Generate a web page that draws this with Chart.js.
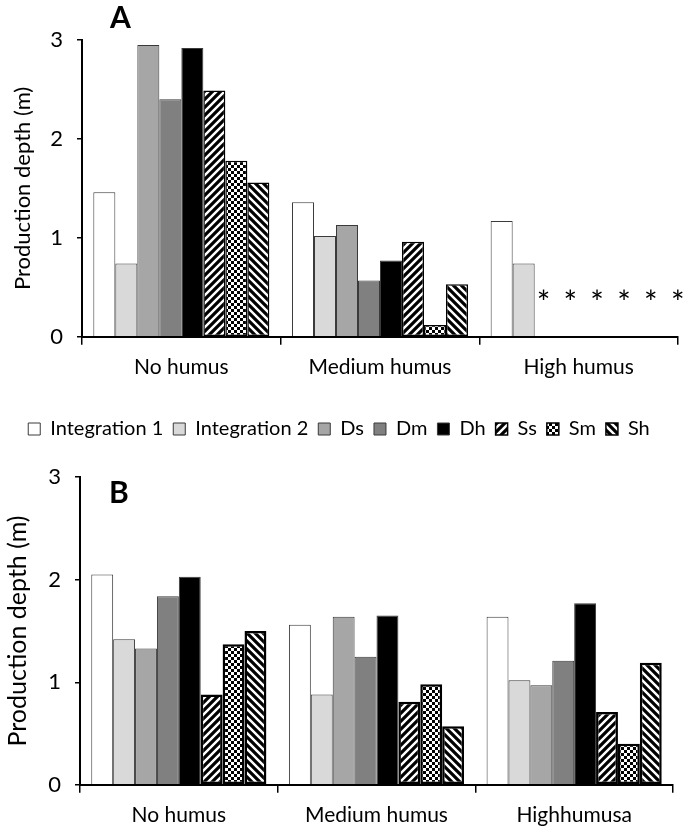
<!DOCTYPE html>
<html>
<head>
<meta charset="utf-8">
<script src="https://cdn.jsdelivr.net/npm/chart.js@4.4.1/dist/chart.umd.min.js"></script>
<style>
  body { margin: 0; background: #fff; width: 685px; height: 830px; position: relative; overflow: hidden; }
  canvas { position: absolute; left: 0; }
  #chartA { top: 0; }
  #chartB { top: 450px; }
  .panel { position: absolute; font: bold 30px Lato, sans-serif; line-height: 30px; color: #000; }
</style>
</head>
<body>
<canvas id="chartA" width="685" height="450"></canvas>
<canvas id="chartB" width="685" height="380"></canvas>
<div class="panel" style="left:110px; top:1px;">A</div>
<div class="panel" style="left:109px; top:476px;">B</div>
<script>
// data
const categoriesA = ['No humus', 'Medium humus', 'High humus'];
const categoriesB = ['No humus', 'Medium humus', 'Highhumusa'];
const seriesNames = ['Integration 1', 'Integration 2', 'Ds', 'Dm', 'Dh', 'Ss', 'Sm', 'Sh'];
const yTickValues = [0, 1, 2, 3];

// panel A (null = not available, shown as *)
const int1A = [1.46, 1.36, 1.17];
const int2A = [0.74, 1.02, 0.74];
const dsA = [2.95, 1.13, null];
const dmA = [2.40, 0.57, null];
const dhA = [2.92, 0.77, null];
const ssA = [2.49, 0.96, null];
const smA = [1.78, 0.12, null];
const shA = [1.56, 0.53, null];
const missingMarkValue = 0.4;
const missingCount = 6;

// panel B
const int1B = [2.05, 1.56, 1.64];
const int2B = [1.42, 0.88, 1.02];
const dsB = [1.33, 1.64, 0.97];
const dmB = [1.84, 1.25, 1.21];
const dhB = [2.03, 1.65, 1.77];
const ssB = [0.88, 0.81, 0.71];
const smB = [1.37, 0.98, 0.40];
const shB = [1.50, 0.57, 1.19];

Chart.defaults.font.family = 'Lato, sans-serif';
Chart.defaults.color = '#000';

// hatch fills
function makePattern(kind) {
    const c = document.createElement('canvas');
    const s = kind === 'check' ? 6 : 8;
    c.width = s; c.height = s;
    const g = c.getContext('2d');
    g.fillStyle = '#fff';
    g.fillRect(0, 0, s, s);
    g.fillStyle = '#000';
    g.strokeStyle = '#000';
    if (kind === 'check') {
        g.fillRect(0, 0, 3, 3);
        g.fillRect(3, 3, 3, 3);
    } else {
        g.lineWidth = 3.2;
        g.beginPath();
        if (kind === 'up') {
            g.moveTo(-s, s * 2); g.lineTo(s * 2, -s);
            g.moveTo(-s, s); g.lineTo(s, -s);
            g.moveTo(0, s * 2); g.lineTo(s * 2, 0);
        } else {
            g.moveTo(-s, -s); g.lineTo(s * 2, s * 2);
            g.moveTo(-s, 0); g.lineTo(s, s * 2);
            g.moveTo(0, -s); g.lineTo(s * 2, s);
        }
        g.stroke();
    }
    return g.createPattern(c, 'repeat');
}

const fills = ['#ffffff', '#d9d9d9', '#a6a6a6', '#808080', '#000000',
    makePattern('up'), makePattern('check'), makePattern('down')];

function buildDatasets(values, hatchBorder) {
    return values.map((v, i) => ({
        label: seriesNames[i],
        data: v,
        backgroundColor: fills[i],
        borderColor: i < 5 ? '#3a3a3a' : '#000',
        borderWidth: i < 5 ? 1 : hatchBorder,
        borderSkipped: i < 5 ? 'start' : false,
        categoryPercentage: 0.886,
        barPercentage: 1.0
    }));
}

function axes(yWidth, titleSize, titlePad, xExtra) {
    return {
        x: {
            ticks: { color: '#000', font: { size: 21 }, padding: 10 },
            grid: { drawOnChartArea: false, tickLength: 8, color: '#000', lineWidth: 1.5, offset: true },
            border: { color: '#000', width: 2 },
            afterFit: s => { s.height += xExtra; }
        },
        y: {
            min: 0, max: 3,
            afterBuildTicks: s => { s.ticks = yTickValues.map(v => ({ value: v })); },
            ticks: { color: '#000', font: { size: 22 }, padding: 14 },
            grid: { drawOnChartArea: false, tickLength: 5, color: '#000', lineWidth: 1.5 },
            border: { color: '#000', width: 2 },
            title: { display: true, text: 'Production depth (m)', color: '#000',
                font: { size: titleSize }, padding: { top: titlePad, bottom: 0 } },
            afterFit: s => { s.width = yWidth; }
        }
    };
}

// asterisks for the missing values of panel A
const missingPlugin = {
    id: 'missingMarks',
    afterDatasetsDraw(chart) {
        const bar = chart.getDatasetMeta(1).data[2];
        const w = bar.width;
        const y = chart.scales.y.getPixelForValue(missingMarkValue);
        const ctx = chart.ctx;
        ctx.save();
        ctx.font = '32px Lato, sans-serif';
        ctx.fillStyle = '#000';
        ctx.textAlign = 'center';
        ctx.textBaseline = 'alphabetic';
        for (let i = 0; i < missingCount; i++) {
            ctx.fillText('*', bar.x + w / 2 + w * 0.4 + i * w * 1.22, y + 17);
        }
        ctx.restore();
    }
};

new Chart(document.getElementById('chartA'), {
    type: 'bar',
    data: {
        labels: categoriesA,
        datasets: buildDatasets([int1A, int2A, dsA, dmA, dhA, ssA, smA, shA], 1.5)
    },
    options: {
        responsive: false,
        animation: false,
        layout: { padding: { top: 40, right: 7, left: 0, bottom: 1 } },
        scales: axes(82, 22, 10, 19),
        plugins: {
            legend: {
                position: 'bottom',
                labels: { boxWidth: 12, boxHeight: 12, color: '#000', font: { size: 20 }, padding: 10 }
            },
            tooltip: { enabled: false }
        }
    },
    plugins: [missingPlugin]
});

new Chart(document.getElementById('chartB'), {
    type: 'bar',
    data: {
        labels: categoriesB,
        datasets: buildDatasets([int1B, int2B, dsB, dmB, dhB, ssB, smB, shB], 2.5)
    },
    options: {
        responsive: false,
        animation: false,
        layout: { padding: { top: 19, right: 12, left: 0, bottom: 3 } },
        scales: axes(80, 25, 3, -11),
        plugins: {
            legend: { display: false },
            tooltip: { enabled: false }
        }
    }
});
</script>
</body>
</html>
